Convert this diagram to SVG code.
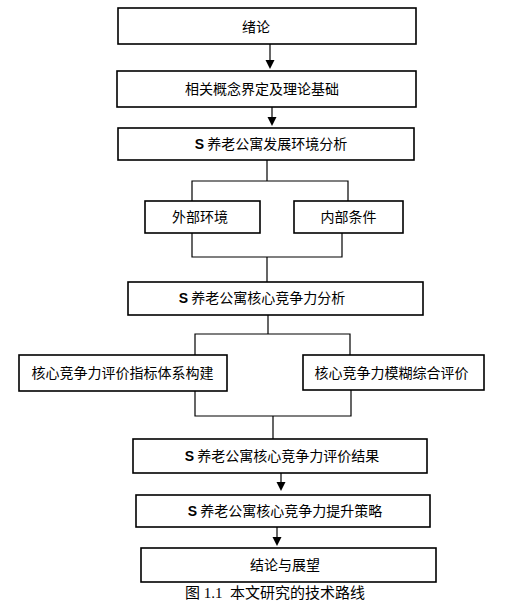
<svg xmlns="http://www.w3.org/2000/svg" width="511" height="613" viewBox="0 0 511 613">
<style>
.box{fill:#fff;stroke:#000;stroke-width:1.6}
.t{font-family:"Noto Sans CJK SC","Liberation Sans",sans-serif;font-size:14px;fill:#000;text-anchor:middle}
.s{font-weight:bold;font-family:"Liberation Sans","Noto Sans CJK SC",sans-serif}
.ln{fill:none;stroke:#000;stroke-width:1.2}
.ah{fill:#000;stroke:none}
.cap{font-family:"Liberation Serif","Noto Sans CJK SC",serif;font-size:15px;fill:#000;text-anchor:middle}
</style>
<rect width="511" height="613" fill="#fff"/>
<g id="connectors">
<path class="ln" d="M270,44V61"/><path class="ah" d="M265.5,60H274.5L270,69Z"/>
<path class="ln" d="M272,107V118"/><path class="ah" d="M267.5,117H276.5L272,126Z"/>
<path class="ln" d="M267,160V181M192,201V181H348V201"/>
<path class="ln" d="M192,233V257H342V233M267,257V282"/>
<path class="ln" d="M268,315V334M195,355V334H350V355"/>
<path class="ln" d="M195,391V416H351V390M273,416V439"/>
<path class="ln" d="M281,473V483"/><path class="ah" d="M276.5,482H285.5L281,491Z"/>
<path class="ln" d="M277,527V538"/><path class="ah" d="M272.5,537H281.5L277,546Z"/>
</g>
<g id="n1"><rect class="box" x="118" y="8" width="298" height="36"/><text class="t" x="256" y="32">绪论</text></g>
<g id="n2"><rect class="box" x="117" y="71" width="299" height="36"/><text class="t" x="262" y="94">相关概念界定及理论基础</text></g>
<g id="n3"><rect class="box" x="118" y="128" width="296" height="32"/><text class="t" x="271" y="149"><tspan class="s">S</tspan> 养老公寓发展环境分析</text></g>
<g id="n4"><rect class="box" x="145" y="201" width="115" height="32"/><text class="t" x="200" y="222">外部环境</text></g>
<g id="n5"><rect class="box" x="294" y="201" width="109" height="32"/><text class="t" x="348.5" y="222">内部条件</text></g>
<g id="n6"><rect class="box" x="128" y="282" width="295" height="33"/><text class="t" x="262" y="303"><tspan class="s">S</tspan> 养老公寓核心竞争力分析</text></g>
<g id="n7"><rect class="box" x="19" y="355" width="208" height="36"/><text class="t" x="122.5" y="378">核心竞争力评价指标体系构建</text></g>
<g id="n8"><rect class="box" x="303" y="355" width="181" height="35"/><text class="t" x="391.5" y="378">核心竞争力模糊综合评价</text></g>
<g id="n9"><rect class="box" x="133" y="439" width="294" height="34"/><text class="t" x="282" y="461"><tspan class="s">S</tspan> 养老公寓核心竞争力评价结果</text></g>
<g id="n10"><rect class="box" x="136" y="495" width="294" height="32"/><text class="t" x="285" y="516"><tspan class="s">S</tspan> 养老公寓核心竞争力提升策略</text></g>
<g id="n11"><rect class="box" x="141" y="548" width="295" height="34"/><text class="t" x="285" y="570">结论与展望</text></g>
<text class="cap" x="275" y="598" xml:space="preserve">图 1.1  本文研究的技术路线</text>
</svg>
